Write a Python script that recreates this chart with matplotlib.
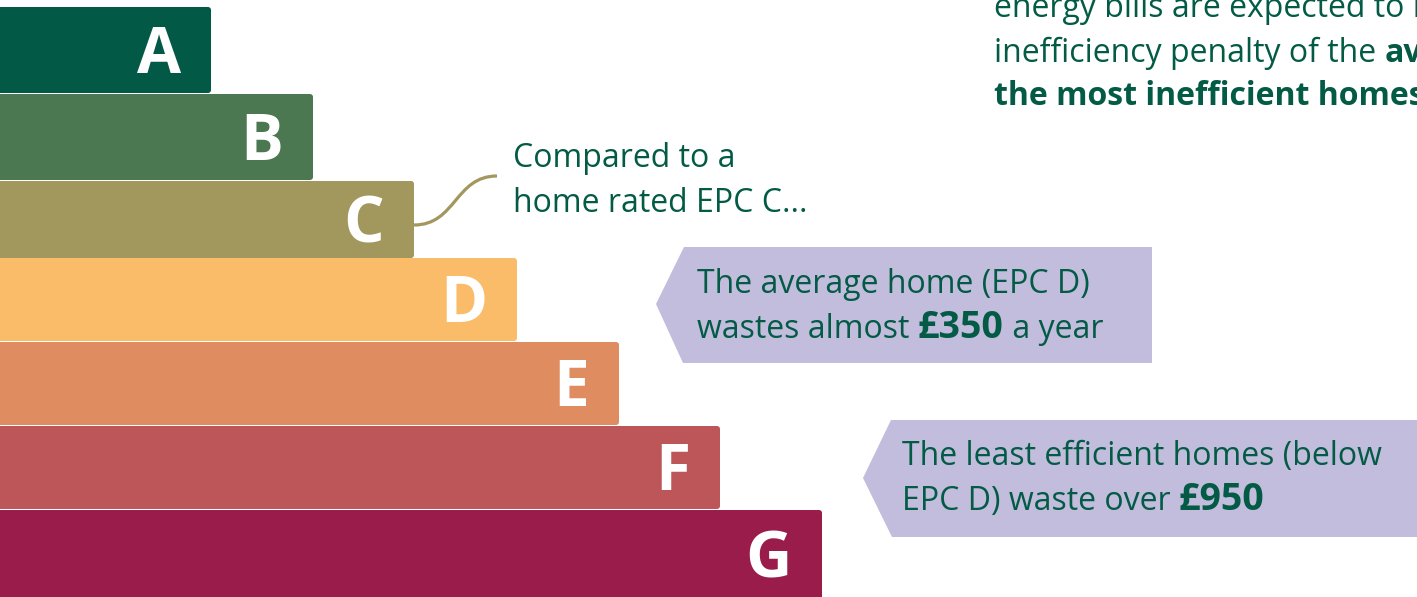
import matplotlib.pyplot as plt
from matplotlib.patches import Polygon, PathPatch, FancyBboxPatch
from matplotlib.path import Path

# EPC bands and bar lengths (px-scale units)
bands = ["A", "B", "C", "D", "E", "F", "G"]
bar_len = [211, 313, 414, 517, 619, 720, 822]
band_colors = ["#025a46", "#4b7751", "#a2975d", "#fbbc6a", "#df8d60", "#bc5659", "#9a1c4a"]

note_c = ["Compared to a", "home rated EPC C..."]
note_d = [["The average home (EPC D)"], ["wastes almost ", "£350", " a year"]]
note_g = [["The least efficient homes (below"], ["EPC D) waste over ", "£950"]]
intro = [[("energy bills are expected to rise, the", False)],
         [("inefficiency penalty of the ", False), ("average", True)],
         [("the most inefficient homes", True)]]

GREEN = "#035b45"
LILAC = "#c2bcdd"
FONT = "Open Sans"

bar_top = [7, 94, 181, 258, 342, 426, 510]
bar_bot = [93, 180, 258, 341, 425, 509, 600]

fig = plt.figure(figsize=(14.17, 5.97), dpi=100)
ax = fig.add_axes([0, 0, 1, 1])
ax.set_xlim(0, 1417)
ax.set_ylim(597, 0)
ax.axis("off")

centers = [(t + b) / 2 for t, b in zip(bar_top, bar_bot)]
heights = [b - t for t, b in zip(bar_top, bar_bot)]
bars = ax.barh(centers, [w + 6 for w in bar_len], height=heights,
               color=band_colors, left=-6)

# swap the square bars for slightly rounded ones (same geometry)
for rect in bars.patches:
    x0, y0 = rect.get_x(), rect.get_y()
    fb = FancyBboxPatch((x0, y0), rect.get_width(), rect.get_height(),
                        boxstyle="round,pad=0,rounding_size=3",
                        facecolor=rect.get_facecolor(), edgecolor="none")
    rect.set_visible(False)
    ax.add_patch(fb)

for lab, w, c in zip(bands, bar_len, centers):
    ax.text(w - 30, c + 23, lab, ha="right", va="baseline", color="white",
            fontsize=46, fontweight="bold", family=FONT)

# curvy connector from the C bar to its note
verts = [(414, 225), (456, 225), (455, 176), (497, 176)]
curve = Path(verts, [Path.MOVETO, Path.CURVE4, Path.CURVE4, Path.CURVE4])
ax.add_patch(PathPatch(curve, fill=False, edgecolor="#a2975d", lw=2.3))

# arrow-shaped callout boxes
ax.add_patch(Polygon([(656, 304), (684, 247), (1152, 247), (1152, 363), (683, 363)],
                     closed=True, facecolor=LILAC, edgecolor="none"))
ax.add_patch(Polygon([(863, 478), (891, 420), (1430, 420), (1430, 537), (892, 537)],
                     closed=True, facecolor=LILAC, edgecolor="none"))

renderer = fig.canvas.get_renderer()


def write_line(x, y, parts, size=23, big=27):
    # parts: list of (text, bold)
    for txt, bold in parts:
        t = ax.text(x, y, txt, ha="left", va="baseline", color=GREEN, family=FONT,
                    fontsize=big if bold == "big" else size,
                    fontweight="bold" if bold else "normal")
        x += t.get_window_extent(renderer).width


write_line(513, 167, [(note_c[0], False)])
write_line(513, 212, [(note_c[1], False)])

write_line(697, 293, [(note_d[0][0], False)])
write_line(697, 338, [(note_d[1][0], False), (note_d[1][1], "big"), (note_d[1][2], False)])

write_line(902, 465, [(note_g[0][0], False)])
write_line(902, 510, [(note_g[1][0], False), (note_g[1][1], "big")])

for yb, parts in zip([17, 62, 105], intro):
    write_line(994, yb, parts)

fig.savefig("out.png", dpi=100)
